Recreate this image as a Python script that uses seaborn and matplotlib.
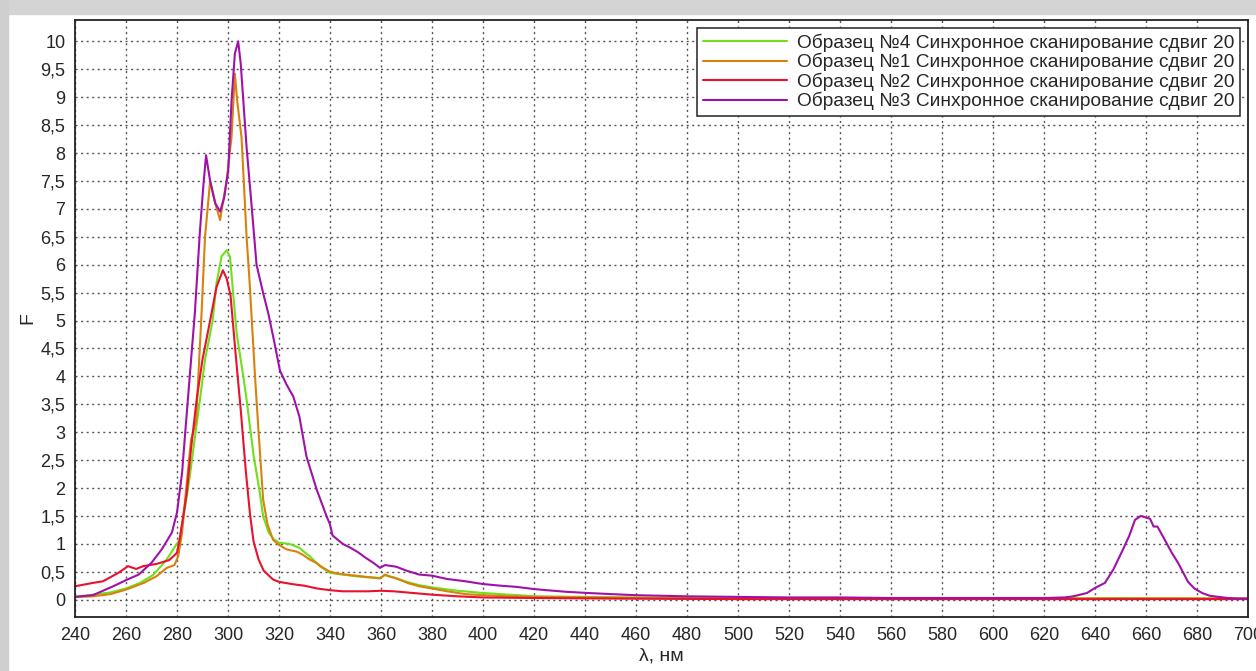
import matplotlib
matplotlib.use("Agg")
import matplotlib.pyplot as plt
import seaborn as sns
from matplotlib.patches import Rectangle
from matplotlib.ticker import MultipleLocator, FuncFormatter

# ── 1. Data (λ in nm, F) ──────────────────────────────────────────────
x_s4 = [240, 254, 260, 265.5, 270.6, 276, 279.2, 281, 283, 285, 287, 289, 291, 294, 295.5,
        297.5, 299.5, 300.8, 302, 303.4, 306, 307.3, 310, 312.5, 313.8, 316, 318, 320, 324,
        328, 330, 332, 336, 340, 345, 350, 355, 359.6, 361.6, 365, 370, 375, 380, 390, 400,
        410, 421, 440, 460, 480, 500, 550, 600, 650, 700]
y_s4 = [0.05, 0.13, 0.2, 0.3, 0.44, 0.72, 0.95, 1.07, 1.6, 2.2, 2.9, 3.58, 4.3, 5.0, 5.67,
        6.15, 6.26, 6.14, 5.5, 4.77, 4.0, 3.58, 2.6, 1.91, 1.49, 1.2, 1.08, 1.02, 1.0,
        0.93, 0.85, 0.78, 0.6, 0.48, 0.45, 0.42, 0.4, 0.39, 0.44, 0.4, 0.32, 0.26, 0.22, 0.16, 0.12,
        0.09, 0.06, 0.05, 0.04, 0.03, 0.03, 0.02, 0.02, 0.03, 0.02]

x_s1 = [240, 247, 254, 260, 267, 272, 276, 279, 280.5, 282, 283, 285.5, 287.5, 289.7, 291,
        293, 295, 296.9, 299.5, 301.4, 302.7, 303.6, 305.3, 307.3, 308.6, 310.6, 312, 313.8,
        315.5, 317.7, 320, 323, 327, 329.5, 332, 334.6, 337, 340, 344, 348, 352, 356, 359.6,
        361.6, 363, 366, 371, 375, 380, 386, 393, 400, 410, 421, 440, 460, 500, 550, 600,
        650, 700]
y_s1 = [0.05, 0.06, 0.1, 0.18, 0.3, 0.42, 0.57, 0.62, 0.78, 1.2, 1.7, 2.86, 3.2, 5.19, 6.5,
        7.5, 7.1, 6.8, 7.51, 8.29, 9.42, 8.94, 8.29, 6.5, 5.6, 4.0, 3.0, 1.79,
        1.35, 1.07, 0.98, 0.9, 0.86, 0.8, 0.72, 0.66, 0.58, 0.5, 0.46, 0.44, 0.42, 0.4, 0.38,
        0.45, 0.42, 0.38, 0.29, 0.24, 0.2, 0.15, 0.1, 0.08, 0.06, 0.05, 0.04, 0.03, 0.02, 0.02, 0.02,
        0.02, 0.02]

x_s2 = [240, 247, 251, 257, 260.8, 264, 266.7, 272, 277, 280, 281, 283.8, 285.5, 287.7, 290,
        293, 295.5, 298, 299.5, 301, 303, 305, 307, 308.6, 310, 312, 314, 317.7, 320, 325,
        330, 335, 340, 345, 350, 355, 360, 365, 370, 380, 390, 400, 420, 450, 500, 600, 700]
y_s2 = [0.24, 0.3, 0.33, 0.48, 0.6, 0.55, 0.6, 0.64, 0.71, 0.84, 1.07, 1.9, 2.7, 3.58, 4.3,
        5.0, 5.6, 5.9, 5.75, 5.45, 4.4, 3.4, 2.3, 1.55, 1.05, 0.72, 0.52, 0.36, 0.32, 0.28,
        0.25, 0.2, 0.17, 0.15, 0.15, 0.15, 0.16, 0.15, 0.13, 0.09, 0.06, 0.04, 0.03, 0.02, 0.01, 0.01, 0.01]

x_s3 = [240, 247, 255, 260, 265, 270, 274, 278, 280, 282, 283, 285, 287, 289, 290.3, 291.4,
        293, 295, 296.9, 298.5, 300.1, 301.4, 302.7, 304, 305, 307.3, 309, 311.2, 313.8, 315.8,
        318, 320.4, 323, 325.6, 328, 330.8, 334.8, 338.7, 340, 341, 345, 348, 351, 354, 357,
        359.6, 361.6, 366, 370, 375, 380, 386, 393, 400, 407, 413, 420, 425, 433, 441, 450,
        460, 470, 480, 500, 520, 540, 560, 580, 600, 620, 628, 631.5, 636.9, 640, 643.9,
        647.2, 651, 653.5, 655.7, 658, 660, 661.6, 663, 664.5, 667.4, 670, 672.7, 676.5, 679,
        682, 685, 688.4, 692, 696, 700]
y_s3 = [0.05, 0.08, 0.24, 0.35, 0.45, 0.66, 0.9, 1.2, 1.56, 2.27, 2.86, 4.0, 5.13, 6.6, 7.39, 7.96,
        7.5, 7.1, 6.95, 7.2, 7.69, 8.94, 9.78, 10.0, 9.6, 8.1, 7.2, 6.0, 5.49, 5.13,
        4.65, 4.1, 3.85, 3.64, 3.28, 2.56, 1.97, 1.49, 1.35, 1.15, 1.0, 0.93, 0.85, 0.75, 0.66,
        0.57, 0.62, 0.59, 0.52, 0.45, 0.43, 0.37, 0.33, 0.28, 0.25, 0.23, 0.19, 0.17, 0.14, 0.12, 0.1,
        0.08, 0.07, 0.06, 0.05, 0.04, 0.04, 0.03, 0.03, 0.03, 0.03, 0.04, 0.06, 0.12, 0.21, 0.3,
        0.54, 0.9, 1.15, 1.43, 1.5, 1.47, 1.45, 1.31, 1.31, 1.07, 0.85, 0.65, 0.32, 0.2,
        0.12, 0.07, 0.05, 0.03, 0.02, 0.02]

labels = ["Образец №4 Синхронное сканирование сдвиг 20",
          "Образец №1 Синхронное сканирование сдвиг 20",
          "Образец №2 Синхронное сканирование сдвиг 20",
          "Образец №3 Синхронное сканирование сдвиг 20"]
colors = ["#6ee01c", "#d8820e", "#e8122e", "#a011a8"]

# ── 2. Style ───────────────────────────────────────────────────────────
sns.set_style("white")
plt.rcParams["font.family"] = ["Liberation Sans", "DejaVu Sans"]

fig = plt.figure(figsize=(12.56, 6.71), dpi=100)
ax = fig.add_axes([0.0597, 0.0805, 0.9339, 0.8895])

# ── 3. Curves ──────────────────────────────────────────────────────────
series = [(x_s4, y_s4), (x_s1, y_s1), (x_s2, y_s2), (x_s3, y_s3)]
for (xs, ys), lab, col in zip(series, labels, colors):
    sns.lineplot(x=xs, y=ys, ax=ax, color=col, label=lab, linewidth=1.5, sort=False)

# ── 4. Axes, grid, ticks ───────────────────────────────────────────────
ax.set_xlim(240, 700)
ax.set_ylim(-0.31, 10.38)
ax.xaxis.set_major_locator(MultipleLocator(20))
ax.xaxis.set_minor_locator(MultipleLocator(10))
ax.yaxis.set_major_locator(MultipleLocator(0.5))
ax.yaxis.set_major_formatter(FuncFormatter(lambda v, p: f"{v:g}".replace(".", ",")))
ax.tick_params(axis="both", which="both", direction="out", length=4, width=1,
               color="#333333", labelsize=13, pad=3)
ax.grid(True, which="major", color="#555555", linestyle=(0, (1.5, 2.5)), linewidth=1)
for sp in ax.spines.values():
    sp.set_visible(True)
    sp.set_color("#222222")
    sp.set_linewidth(1.3)

ax.set_xlabel("λ, нм", fontsize=14, labelpad=3)
ax.set_ylabel("F", fontsize=14, labelpad=3)

leg = ax.legend(loc="upper right", fontsize=13.8, handlelength=4.4, handletextpad=0.5,
                labelspacing=0.06, borderpad=0.3, borderaxespad=0.4,
                fancybox=False, framealpha=1, edgecolor="#333333")
leg.get_frame().set_linewidth(1.2)

# screenshot frame around the chart
fig.add_artist(Rectangle((0, 1 - 14 / 671), 1, 14 / 671, transform=fig.transFigure,
                         color="#d4d4d4", zorder=-1))
fig.add_artist(Rectangle((0, 0), 8 / 1256, 1, transform=fig.transFigure,
                         color="#cfcfcf", zorder=-1))

fig.savefig("out.png", dpi=100)
